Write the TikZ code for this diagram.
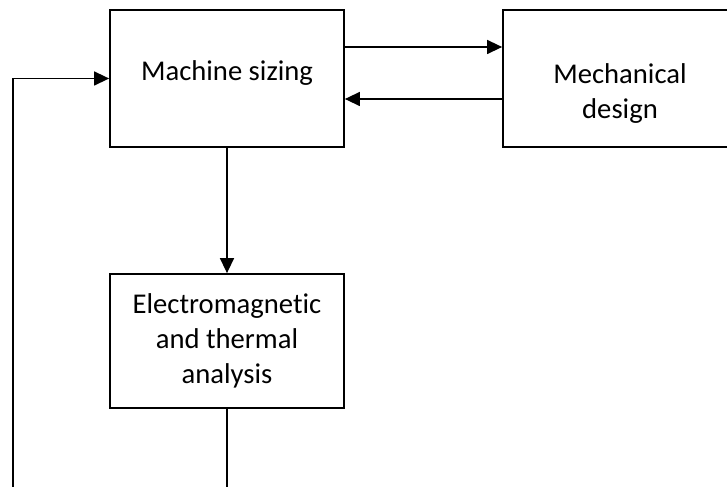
\documentclass[tikz,border=0pt]{standalone}
\usepackage{fontspec}
\setmainfont[Ligatures=NoCommon]{Carlito}
\usetikzlibrary{arrows.meta}

\begin{document}
\begin{tikzpicture}[every node/.style={font=\fontsize{16.3}{20}\selectfont},
    block/.style={draw,line width=1pt,minimum width=4.68cm,align=center,inner sep=0pt},
    >={Triangle[length=0.3cm,width=0.28cm]}]
    \useasboundingbox (0,0) rectangle (14.54,-9.74);
    \clip (0,0) rectangle (14.54,-9.74);
    %boxes
    \node[block,minimum height=2.74cm] (sizing) at (4.54,-1.57) {\rule[-0.32cm]{0pt}{0pt}Machine sizing};
    \node[block,minimum height=2.74cm] (mech) at (12.4,-1.57) {\rule{0pt}{1cm}Mechanical\\design};
    \node[block,minimum height=2.68cm] (emt) at (4.54,-6.82) {Electromagnetic\\and thermal\\analysis};
    \coordinate (loopL) at (0.26,-10.5);
    \coordinate (loopR) at (4.54,-10.5);
    \draw[line width=0.8pt] ([yshift=0.63cm]sizing.east) edge[->] ([yshift=0.63cm]mech.west) ;
    \draw[line width=0.8pt] ([yshift=-0.41cm]mech.west) edge[->] ([yshift=-0.41cm]sizing.east) ;
    \draw[line width=0.8pt] (sizing) edge[->] (emt) ;
    \draw[line width=0.8pt] (emt) -- (loopR) ;
    \draw[line width=0.8pt,->] (loopL) |- (sizing.west) ;
\end{tikzpicture}
\end{document}
